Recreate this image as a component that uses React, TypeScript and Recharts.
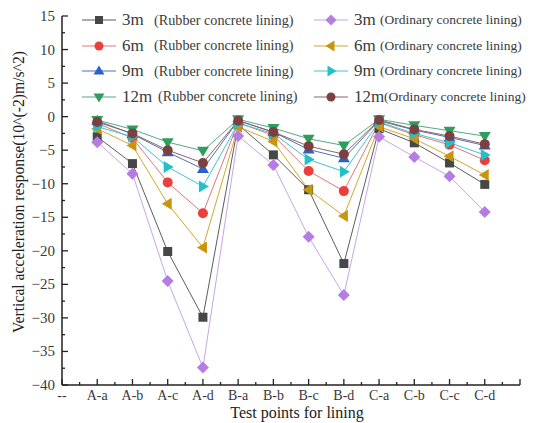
import { LineChart, Line, XAxis, YAxis, Label } from 'recharts'

// Test points along the lining; index 0 ("--") and 13 are empty slots on the axis
const categories = ['--', 'A-a', 'A-b', 'A-c', 'A-d', 'B-a', 'B-b', 'B-c', 'B-d', 'C-a', 'C-b', 'C-c', 'C-d']

// Vertical acceleration response, 10^-2 m/s^2
const rubber3 = [-3.0, -7.0, -20.1, -29.9, -1.2, -5.7, -10.9, -21.9, -1.8, -3.9, -6.9, -10.1]
const rubber6 = [-1.0, -3.2, -9.8, -14.4, -0.9, -2.8, -8.1, -11.1, -0.9, -2.7, -4.2, -6.5]
const rubber9 = [-0.6, -2.6, -5.3, -7.8, -0.6, -2.3, -4.9, -6.2, -0.6, -2.0, -3.1, -4.3]
const rubber12 = [-0.5, -1.9, -3.8, -5.1, -0.4, -1.7, -3.3, -4.3, -0.4, -1.3, -2.1, -2.9]
const ordinary3 = [-3.8, -8.5, -24.5, -37.4, -2.9, -7.2, -17.9, -26.6, -3.0, -6.0, -8.9, -14.2]
const ordinary6 = [-1.8, -4.3, -13.0, -19.5, -1.5, -3.7, -10.9, -14.8, -1.5, -3.3, -5.9, -8.7]
const ordinary9 = [-1.5, -3.0, -7.5, -10.4, -1.0, -2.5, -6.4, -8.2, -0.8, -2.5, -3.9, -5.7]
const ordinary12 = [-0.8, -2.5, -5.0, -6.9, -0.6, -2.3, -4.4, -5.6, -0.5, -1.9, -2.9, -4.1]

const yTicks = [-40, -37.5, -35, -32.5, -30, -27.5, -25, -22.5, -20, -17.5, -15, -12.5, -10, -7.5, -5, -2.5, 0, 2.5, 5, 7.5, 10, 12.5, 15]
const xTicks = [0, 0.5, 1, 1.5, 2, 2.5, 3, 3.5, 4, 4.5, 5, 5.5, 6, 6.5, 7, 7.5, 8, 8.5, 9, 9.5, 10, 10.5, 11, 11.5, 12, 12.5, 13]

type Shape = 'square' | 'circle' | 'up' | 'down' | 'diamond' | 'left' | 'right'

const series: { key: string; name: string; kind: string; values: number[]; shape: Shape; fill: string; line: string }[] = [
  { key: 'r3', name: '3m', kind: '(Rubber concrete lining)', values: rubber3, shape: 'square', fill: '#474747', line: '#5c5c5c' },
  { key: 'r6', name: '6m', kind: '(Rubber concrete lining)', values: rubber6, shape: 'circle', fill: '#ea3f3c', line: '#e07878' },
  { key: 'r9', name: '9m', kind: '(Rubber concrete lining)', values: rubber9, shape: 'up', fill: '#2d62c8', line: '#4d72b4' },
  { key: 'r12', name: '12m', kind: '(Rubber concrete lining)', values: rubber12, shape: 'down', fill: '#2f9e5c', line: '#55a88a' },
  { key: 'o3', name: '3m', kind: '(Ordinary concrete lining)', values: ordinary3, shape: 'diamond', fill: '#b57de3', line: '#c8a5e6' },
  { key: 'o6', name: '6m', kind: '(Ordinary concrete lining)', values: ordinary6, shape: 'left', fill: '#c8960e', line: '#d2a82a' },
  { key: 'o9', name: '9m', kind: '(Ordinary concrete lining)', values: ordinary9, shape: 'right', fill: '#24c0c9', line: '#3cc6cf' },
  { key: 'o12', name: '12m', kind: '(Ordinary concrete lining)', values: ordinary12, shape: 'circle', fill: '#7b4140', line: '#8c6464' },
]

const data = categories.slice(1).map((_, i) => {
  const row: Record<string, number> = { x: i + 1 }
  series.forEach(s => { row[s.key] = s.values[i] })
  return row
})

const FONT = '"Liberation Serif", "DejaVu Serif", serif'
const TEXT = '#3a3a3a'

function Marker({ cx, cy, shape, fill, size = 5 }: { cx: number; cy: number; shape: Shape; fill: string; size?: number }) {
  const s = size
  switch (shape) {
    case 'square':
      return <rect x={cx - s + 0.5} y={cy - s + 0.5} width={2 * s - 1} height={2 * s - 1} fill={fill} />
    case 'circle':
      return <circle cx={cx} cy={cy} r={s} fill={fill} />
    case 'up':
      return <polygon points={`${cx},${cy - s - 1} ${cx + s + 1},${cy + s - 1} ${cx - s - 1},${cy + s - 1}`} fill={fill} />
    case 'down':
      return <polygon points={`${cx},${cy + s + 1} ${cx + s + 1},${cy - s + 1} ${cx - s - 1},${cy - s + 1}`} fill={fill} />
    case 'left':
      return <polygon points={`${cx - s - 1},${cy} ${cx + s - 1},${cy - s - 1} ${cx + s - 1},${cy + s + 1}`} fill={fill} />
    case 'right':
      return <polygon points={`${cx + s + 1},${cy} ${cx - s + 1},${cy - s - 1} ${cx - s + 1},${cy + s + 1}`} fill={fill} />
    case 'diamond':
      return <polygon points={`${cx},${cy - s - 1} ${cx + s + 1},${cy} ${cx},${cy + s + 1} ${cx - s - 1},${cy}`} fill={fill} />
  }
}

// Inward-pointing ticks; labels only on the major values
function YTick(props: any) {
  const { x, y, payload } = props
  const v = payload.value as number
  const major = v % 5 === 0
  return (
    <g>
      <line x1={x} x2={x + (major ? 6 : 3)} y1={y} y2={y} stroke="#222" strokeWidth={1.3} />
      {major && (
        <text x={x - 7} y={y} dy={5} textAnchor="end" fontFamily={FONT} fontSize={15} fill={TEXT}>
          {v < 0 ? '\u2212' + Math.abs(v) : v}
        </text>
      )}
    </g>
  )
}

function XTick(props: any) {
  const { x, y, payload } = props
  const v = payload.value as number
  const major = Number.isInteger(v)
  return (
    <g>
      <line x1={x} x2={x} y1={y} y2={y - (major ? 6 : 3)} stroke="#222" strokeWidth={1.3} />
      {major && v < categories.length && (
        <text x={x} y={y} dy={15} textAnchor="middle" fontFamily={FONT} fontSize={14} fill={TEXT}>
          {categories[v]}
        </text>
      )}
    </g>
  )
}

// Two-column legend laid over the top of the plot
function LegendBox() {
  const rows = 4
  return (
    <div style={{ position: 'absolute', left: 82, top: 10, width: 460, height: 100 }}>
      {series.map((s, i) => {
        const col = Math.floor(i / rows)
        const row = i % rows
        const nameWidth = col === 0 ? (s.name.length > 2 ? 36 : 32) : (s.name.length > 2 ? 30 : 26)
        return (
          <div key={s.key} style={{ position: 'absolute', left: col * 232, top: row * 25.5, display: 'flex', alignItems: 'center', whiteSpace: 'nowrap', fontFamily: FONT, color: TEXT }}>
            <svg width={34} height={16}>
              <line x1={0} x2={34} y1={8} y2={8} stroke={s.line} strokeWidth={1.2} />
              <Marker cx={17} cy={8} shape={s.shape} fill={s.fill} size={4.5} />
            </svg>
            <span style={{ fontSize: 17, marginLeft: 6, width: nameWidth }}>{s.name}</span>
            <span style={{ fontSize: col === 0 ? 14.2 : 13.5 }}>{s.kind}</span>
          </div>
        )
      })}
    </div>
  )
}

export default function App() {
  return (
    <div style={{ position: 'absolute', left: 0, top: 0, width: 541, height: 423, background: '#fff' }}>
      <LineChart width={541} height={423} data={data} margin={{ top: 16, right: 21, bottom: 8, left: 0 }}>
        <XAxis
          dataKey="x"
          type="number"
          domain={[0, 13]}
          ticks={xTicks}
          interval={0}
          tick={<XTick />}
          tickSize={0}
          tickMargin={0}
          height={30}
          axisLine={{ stroke: '#222', strokeWidth: 1.5 }}
        >
          <Label
            content={() => (
              <text x={297} y={418} textAnchor="middle" fontFamily={FONT} fontSize={16} fill="#222">
                Test points for lining
              </text>
            )}
          />
        </XAxis>
        <YAxis
          type="number"
          domain={[-40, 15]}
          ticks={yTicks}
          interval={0}
          tick={<YTick />}
          tickSize={0}
          tickMargin={0}
          width={62}
          axisLine={{ stroke: '#222', strokeWidth: 1.5 }}
        >
          <Label
            content={() => (
              <text x={0} y={0} transform="translate(24 192) rotate(-90)" textAnchor="middle" fontFamily={FONT} fontSize={15.7} fill="#222">
                Vertical acceleration response(10^(-2)m/s^2)
              </text>
            )}
          />
        </YAxis>
        {series.map(s => (
          <Line
            key={s.key}
            dataKey={s.key}
            name={s.name + ' ' + s.kind}
            stroke={s.line}
            strokeWidth={1}
            isAnimationActive={false}
            dot={(p: any) => <Marker key={s.key + p.index} cx={p.cx} cy={p.cy} shape={s.shape} fill={s.fill} />}
            activeDot={false}
          />
        ))}
      </LineChart>
      <LegendBox />
    </div>
  )
}
